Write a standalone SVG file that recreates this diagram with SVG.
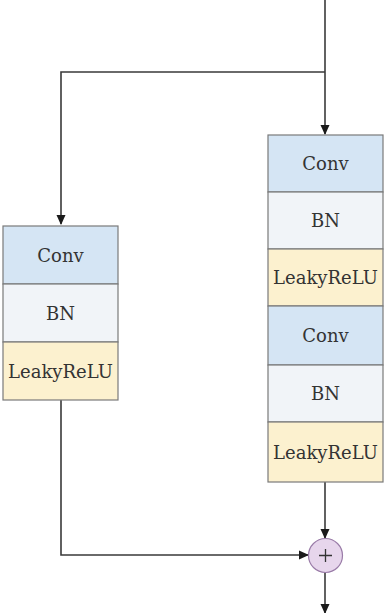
<svg xmlns="http://www.w3.org/2000/svg" width="384" height="613" viewBox="0 0 384 613">
<style>
.conv{fill:#d5e5f4;stroke:#7a7a7a;stroke-width:1.2}
.bn{fill:#f1f4f8;stroke:#7a7a7a;stroke-width:1.2}
.lr{fill:#fcf1cf;stroke:#7a7a7a;stroke-width:1.2}
.lbl{font-family:"DejaVu Serif","Liberation Serif",serif;font-size:18px;fill:#333;text-anchor:middle}
.ln{fill:none;stroke:#3a3a3a;stroke-width:1.6}
</style>
<defs>
<marker id="arr" markerWidth="10" markerHeight="10" refX="9" refY="5" orient="auto" markerUnits="userSpaceOnUse">
<path d="M0,0.5 L10,5 L0,9.5 z" fill="#1a1a1a"/>
</marker>
</defs>
<rect width="384" height="613" fill="#ffffff"/>
<g id="connectors">
<path class="ln" d="M325,0 V72"/>
<path class="ln" d="M325,72 V134" marker-end="url(#arr)"/>
<path class="ln" d="M325,72 H61 V224" marker-end="url(#arr)"/>
<path class="ln" d="M325,482 V538" marker-end="url(#arr)"/>
<path class="ln" d="M61,400 V555 H308" marker-end="url(#arr)"/>
<path class="ln" d="M325,572 V613" marker-end="url(#arr)"/>
</g>
<g id="left-conv"><rect class="conv" x="3" y="226" width="115" height="58"/><text class="lbl" x="60.5" y="261.5">Conv</text></g>
<g id="left-bn"><rect class="bn" x="3" y="284" width="115" height="58"/><text class="lbl" x="60.5" y="319.5">BN</text></g>
<g id="left-leaky"><rect class="lr" x="3" y="342" width="115" height="58"/><text class="lbl" x="60.5" y="377.5">LeakyReLU</text></g>
<g id="right-conv1"><rect class="conv" x="268" y="135" width="115" height="57"/><text class="lbl" x="325.5" y="169.5">Conv</text></g>
<g id="right-bn1"><rect class="bn" x="268" y="192" width="115" height="57"/><text class="lbl" x="325.5" y="226.5">BN</text></g>
<g id="right-leaky1"><rect class="lr" x="268" y="249" width="115" height="57"/><text class="lbl" x="325.5" y="283.5">LeakyReLU</text></g>
<g id="right-conv2"><rect class="conv" x="268" y="306" width="115" height="59"/><text class="lbl" x="325.5" y="341.5">Conv</text></g>
<g id="right-bn2"><rect class="bn" x="268" y="365" width="115" height="57"/><text class="lbl" x="325.5" y="399.5">BN</text></g>
<g id="right-leaky2"><rect class="lr" x="268" y="422" width="115" height="60"/><text class="lbl" x="325.5" y="458.5">LeakyReLU</text></g>
<g id="add">
<circle cx="325.5" cy="555.5" r="17" fill="#e7d6ec" stroke="#9a7ca8" stroke-width="1.2"/>
<path d="M319,555.5 H332 M325.5,549 V562" stroke="#333" stroke-width="1.3"/>
</g>
</svg>
